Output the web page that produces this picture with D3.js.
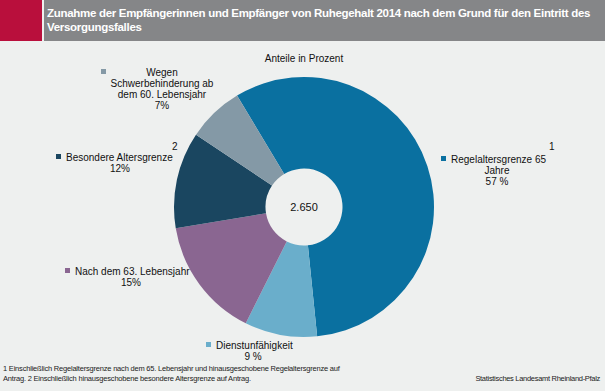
<!DOCTYPE html>
<html><head><meta charset="utf-8">
<script src="https://cdn.jsdelivr.net/npm/d3@7"></script>
<style>
html,body{margin:0;padding:0;background:#eef0ef;}
svg{display:block;font-family:"Liberation Sans",Arial,sans-serif;}
</style></head>
<body>
<svg id="c" width="605" height="391"></svg>
<script>
const categories = ["Regelaltersgrenze 65 Jahre","Dienstunfähigkeit","Nach dem 63. Lebensjahr","Besondere Altersgrenze","Wegen Schwerbehinderung ab dem 60. Lebensjahr"];
const values = [57, 9, 15, 12, 7];
const total = "2.650";
const footnoteMarks = ["1", "", "", "2", ""];

const colors = ["#0a70a0","#6aaecb","#8a6691","#1a4660","#8499a6"];
// label layout: lines, anchor x of centered block, first baseline, marker position
const labelLayout = [
  {lines:["Regelaltersgrenze 65","Jahre","57 %"], cx:497, y:163, mx:441, tx:451, sup:[549,150]},
  {lines:["Dienstunfähigkeit","9 %"], cx:253, y:349, mx:206, tx:216},
  {lines:["Nach dem 63. Lebensjahr","15%"], cx:131, y:275, mx:65, tx:75},
  {lines:["Besondere Altersgrenze","12%"], cx:120, y:161, mx:56, tx:66, sup:[172,150]},
  {lines:["Wegen","Schwerbehinderung ab","dem 60. Lebensjahr","7%"], cx:162, y:76, mx:101, tx:null}
];

const svg = d3.select("#c");
svg.append("rect").attr("width",605).attr("height",391).attr("fill","#eef0ef");
// header
svg.append("rect").attr("x",0).attr("y",0).attr("width",605).attr("height",41).attr("fill","#858688");
svg.append("rect").attr("x",0).attr("y",0).attr("width",42).attr("height",41).attr("fill","#b90f3c");
svg.append("rect").attr("x",42).attr("y",0).attr("width",2).attr("height",41).attr("fill","#eef0ef");
const title = svg.append("text").attr("fill","#fff").attr("font-weight","bold").attr("font-size","11.5px").attr("letter-spacing","-0.3px");
title.append("tspan").attr("x",47).attr("y",17).text("Zunahme der Empfängerinnen und Empfänger von Ruhegehalt 2014 nach dem Grund für den Eintritt des");
title.append("tspan").attr("x",47).attr("y",31).text("Versorgungsfalles");

svg.append("text").attr("x",304).attr("y",62).attr("text-anchor","middle").attr("font-size","10px").attr("fill","#111").text("Anteile in Prozent");

const cx = 304, cy = 207, R = 130, r = 38.5;
const startAngle = -31 * Math.PI/180;
const pie = d3.pie().sort(null).value(d=>d).startAngle(startAngle).endAngle(startAngle + 2*Math.PI);
const arcs = pie(values);
const arc = d3.arc().innerRadius(r).outerRadius(R);
const g = svg.append("g").attr("transform",`translate(${cx},${cy})`);
g.selectAll("path").data(arcs).join("path").attr("d",arc).attr("fill",(d,i)=>colors[i]);
g.append("text").attr("text-anchor","middle").attr("y",4).attr("font-size","11px").attr("fill","#111").text(total);

const lg = svg.append("g").attr("font-size","10px").attr("fill","#111");
labelLayout.forEach((L,i)=>{
  const lh = 11;
  L.lines.forEach((t,j)=>{
    if (j===0 && L.tx!==null) {
      lg.append("text").attr("x",L.tx).attr("y",L.y).text(t);
    } else {
      lg.append("text").attr("x",L.cx).attr("y",L.y + j*lh).attr("text-anchor","middle").text(t);
    }
  });
  lg.append("rect").attr("x",L.mx).attr("y",L.y-7).attr("width",5).attr("height",5).attr("fill",colors[i]);
  if (footnoteMarks[i] && L.sup) lg.append("text").attr("x",L.sup[0]).attr("y",L.sup[1]).text(footnoteMarks[i]);
});

const fn = svg.append("text").attr("font-size","7.5px").attr("fill","#222").attr("letter-spacing","-0.2px");
fn.append("tspan").attr("x",3).attr("y",371).text("1 Einschließlich Regelaltersgrenze nach dem 65. Lebensjahr und hinausgeschobene Regelaltersgrenze auf");
fn.append("tspan").attr("x",3).attr("y",381).text("Antrag. 2 Einschließlich hinausgeschobene besondere Altersgrenze auf Antrag.");
svg.append("text").attr("x",600).attr("y",381).attr("text-anchor","end").attr("font-size","7.5px").attr("fill","#222").attr("letter-spacing","-0.3px").text("Statistisches Landesamt Rheinland-Pfalz");
</script>
</body></html>
